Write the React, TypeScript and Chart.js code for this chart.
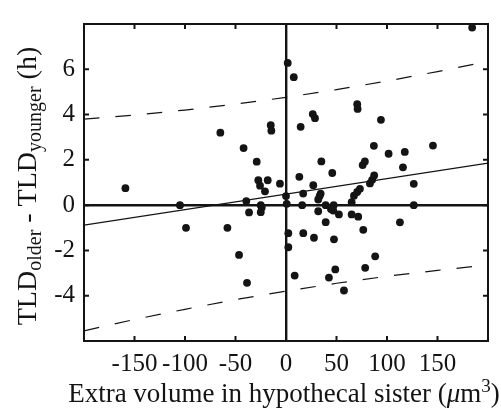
import React, { useEffect, useRef } from 'react';
import { Chart, registerables } from 'chart.js';

Chart.register(...registerables);

// Scatter: extra volume in hypothecal sister (um^3) vs TLD_older - TLD_younger (h)
const volumeX = [
  -159, -105, -99, -58, -65, -42, -46.5, -38.6, -39.3, -36.6,
  -25, -24, -25, -29, -27.4, -18.1, -25.7, -20.8, -6, -15.1,
  -14.5, 0, 0.7, 2.3, 2.3, 1.7, 7.7, 8.6, 13.2, 14.5,
  17, 16, 17.1, 26.5, 28.7, 27, 35, 34.3, 33.3, 31.9,
  31.9, 27.7, 39.3, 47.2, 44.5, 46.8, 39.3, 45.8, 52.4, 47.5,
  42.5, 48.8, 57.4, 65, 65, 71.5, 67.3, 70.5, 73.2, 70.5,
  70.9, 76.5, 78.4, 88.3, 78.1, 75.9, 83.1, 85.3, 87.3, 87,
  94, 101.6, 117.6, 115.8, 126.5, 126.5, 112.8, 145.5, 184.3,
];
const tldDiff = [
  0.75, 0, -1.0, -1.0, 3.2, 2.52, -2.2, -3.43, 0.18, -0.32,
  0.0, -0.1, -0.31, 1.92, 1.1, 1.1, 0.86, 0.61, 0.95, 3.53,
  3.29, 0.4, 0.06, -1.24, -1.86, 6.28, 5.65, -3.11, 1.25, 3.46,
  0.51, 0.0, -1.24, 4.02, 3.84, 0.88, 1.93, 0.51, 0.4, 0.25,
  -0.27, -1.44, 0.0, 0.0, -0.17, -0.24, -0.75, 1.42, -0.41, -1.51,
  -3.2, -2.84, -3.77, 0.13, -0.41, -0.51, 0.42, 0.58, 0.72, 4.46,
  4.25, -1.09, -2.77, -2.26, 1.93, 1.77, 0.96, 1.12, 1.31, 2.62,
  3.77, 2.27, 2.35, 1.67, 0.94, 0.0, -0.76, 2.63, 7.84,
];

// Regression line and prediction band (read at these x positions)
const fitX = [-200, 200];
const fitY = [-0.88, 1.86];
const bandX = [-200, -150, -100, -50, 0, 50, 100, 150, 200];
const upperY = [3.8, 3.98, 4.2, 4.46, 4.76, 5.1, 5.48, 5.9, 6.35];
const lowerY = [-5.55, -5.05, -4.6, -4.17, -3.8, -3.45, -3.14, -2.88, -2.64];

const xTicks = [-150, -100, -50, 0, 50, 100, 150];
const yTicks = [-4, -2, 0, 2, 4, 6];
const xRange = [-200, 200];
const yRange = [-6, 8];

const FONT = '"Liberation Serif", "Times New Roman", serif';
const INK = '#141414';

const framePlugin = {
  id: 'frame',
  afterDatasetsDraw(chart: any) {
    const { ctx, chartArea } = chart;
    const { left, right, top, bottom } = chartArea;
    const xs = chart.scales.x;
    const ys = chart.scales.y;
    ctx.save();
    ctx.strokeStyle = INK;
    ctx.lineWidth = 2;
    ctx.strokeRect(left, top, right - left, bottom - top);
    const tl = 5;
    ctx.beginPath();
    for (const v of xTicks) {
      const p = xs.getPixelForValue(v);
      ctx.moveTo(p, bottom);
      ctx.lineTo(p, bottom - tl);
      ctx.moveTo(p, top);
      ctx.lineTo(p, top + tl);
    }
    for (const v of yTicks) {
      const p = ys.getPixelForValue(v);
      ctx.moveTo(left, p);
      ctx.lineTo(left + tl, p);
      ctx.moveTo(right, p);
      ctx.lineTo(right - tl, p);
    }
    ctx.stroke();
    ctx.restore();
  },
  afterDraw(chart: any) {
    const { ctx } = chart;
    ctx.save();
    ctx.fillStyle = INK;
    ctx.textBaseline = 'alphabetic';
    // x title
    const xs = 27;
    const parts: [string, string, number][] = [
      ['Extra volume in hypothecal sister (', `${xs}px ${FONT}`, 0],
      ['\u03bc', `italic ${xs}px ${FONT}`, 0],
      ['m', `${xs}px ${FONT}`, 0],
      ['3', `${Math.round(xs * 0.72)}px ${FONT}`, -10],
      [')', `${xs}px ${FONT}`, 0],
    ];
    let total = 0;
    for (const p of parts) {
      ctx.font = p[1];
      total += ctx.measureText(p[0]).width;
    }
    let cx = 284 - total / 2;
    const by = 402;
    for (const p of parts) {
      ctx.font = p[1];
      ctx.fillText(p[0], cx, by + p[2]);
      cx += ctx.measureText(p[0]).width;
    }
    // y title
    const ysz = 28;
    const subF = `${Math.round(ysz * 0.72)}px ${FONT}`;
    const mainF = `${ysz}px ${FONT}`;
    const yparts: [string, string, number][] = [
      ['TLD', mainF, 0],
      ['older', subF, 5],
      [' - TLD', mainF, 0],
      ['younger', subF, 5],
      [' (h)', mainF, 0],
    ];
    let ytotal = 0;
    for (const p of yparts) {
      ctx.font = p[1];
      ytotal += ctx.measureText(p[0]).width;
    }
    ctx.translate(36, 186);
    ctx.rotate(-Math.PI / 2);
    let ux = -ytotal / 2;
    for (const p of yparts) {
      ctx.font = p[1];
      ctx.fillText(p[0], ux, p[2]);
      ux += ctx.measureText(p[0]).width;
    }
    ctx.restore();
  },
};

export default function App() {
  const ref = useRef<HTMLCanvasElement>(null);
  useEffect(() => {
    const points = volumeX.map((x, i) => ({ x, y: tldDiff[i] }));
    const fit = fitX.map((x, i) => ({ x, y: fitY[i] }));
    const upper = bandX.map((x, i) => ({ x, y: upperY[i] }));
    const lower = bandX.map((x, i) => ({ x, y: lowerY[i] }));
    const chart = new Chart(ref.current as HTMLCanvasElement, {
      type: 'scatter',
      data: {
        datasets: [
          {
            data: upper,
            showLine: true,
            borderColor: INK,
            borderWidth: 1.2,
            borderDash: [15.5, 16],
            pointRadius: 0,
            tension: 0,
          },
          {
            data: lower,
            showLine: true,
            borderColor: INK,
            borderWidth: 1.2,
            borderDash: [15.5, 16],
            pointRadius: 0,
            tension: 0,
          },
          {
            data: fit,
            showLine: true,
            borderColor: INK,
            borderWidth: 1.3,
            pointRadius: 0,
          },
          {
            data: points,
            backgroundColor: INK,
            borderWidth: 0,
            pointRadius: 3.9,
          },
        ],
      },
      options: {
        responsive: false,
        devicePixelRatio: 1,
        animation: false,
        layout: { padding: { top: 10, right: 13, left: 0, bottom: 0 } },
        plugins: { legend: { display: false }, tooltip: { enabled: false } },
        scales: {
          x: {
            type: 'linear',
            min: xRange[0],
            max: xRange[1],
            afterFit: (s: any) => {
              s.height = 67;
            },
            afterBuildTicks: (s: any) => {
              s.ticks = xTicks.map((v) => ({ value: v }));
            },
            border: { display: false },
            grid: {
              drawTicks: false,
              color: (c: any) => (c.tick && c.tick.value === 0 ? INK : 'rgba(0,0,0,0)'),
              lineWidth: (c: any) => (c.tick && c.tick.value === 0 ? 2.4 : 0),
            },
            ticks: {
              autoSkip: false,
              maxRotation: 0,
              padding: 8,
              color: INK,
              font: { family: FONT, size: 25 },
            },
          },
          y: {
            type: 'linear',
            min: yRange[0],
            max: yRange[1],
            afterFit: (s: any) => {
              s.width = 84;
            },
            afterBuildTicks: (s: any) => {
              s.ticks = yTicks.map((v) => ({ value: v }));
            },
            border: { display: false },
            grid: {
              drawTicks: false,
              color: (c: any) => (c.tick && c.tick.value === 0 ? INK : 'rgba(0,0,0,0)'),
              lineWidth: (c: any) => (c.tick && c.tick.value === 0 ? 2.4 : 0),
            },
            ticks: {
              padding: 9,
              color: INK,
              font: { family: FONT, size: 25 },
            },
          },
        },
      },
      plugins: [framePlugin],
    });
    return () => chart.destroy();
  }, []);
  return (
    <div style={{ position: 'absolute', left: 0, top: 0, width: 501, height: 408, background: '#fff' }}>
      <canvas ref={ref} width={501} height={408} style={{ display: 'block' }} />
    </div>
  );
}
